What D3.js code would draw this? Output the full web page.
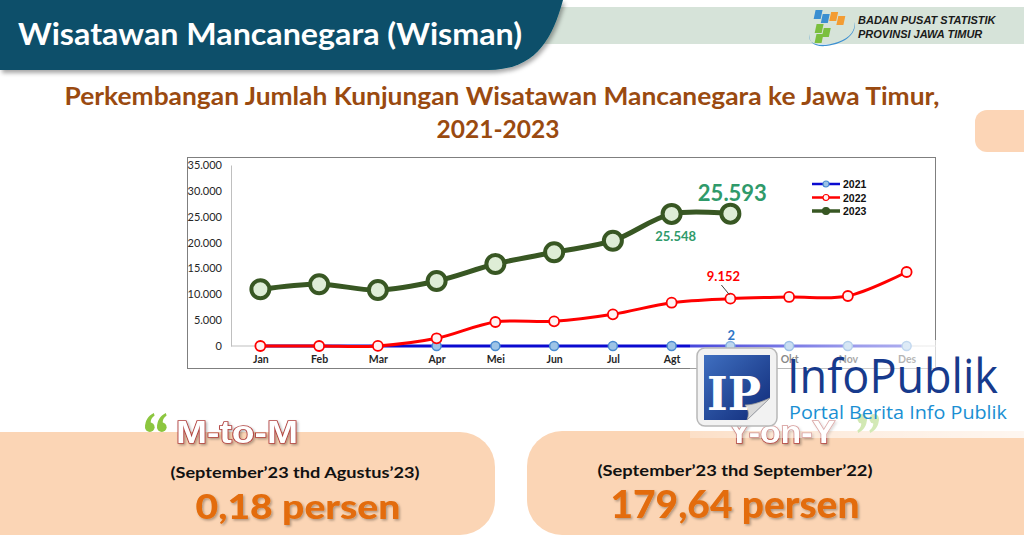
<!DOCTYPE html>
<html>
<head>
<meta charset="utf-8">
<script src="https://cdn.jsdelivr.net/npm/d3@7"></script>
<style>
  html, body { margin: 0; padding: 0; background: #fff; }
  svg { display: block; }
</style>
</head>
<body>
<div id="frame"></div>
<script>

// data
var months = ["Jan","Feb","Mar","Apr","Mei","Jun","Jul","Agt","Sep","Okt","Nov","Des"];
var wisman2021 = [0, 0, 0, 0, 0, 0, 0, 0, 2, 0, 0, 0];
var wisman2022 = [0, 2, 20, 1490, 4640, 4770, 6130, 8370, 9152, 9480, 9670, 14310];
var wisman2023 = [10960, 11950, 10830, 12570, 15860, 18120, 20360, 25548, 25593];
var yTicks = [0, 5000, 10000, 15000, 20000, 25000, 30000, 35000];
var seriesNames = ["2021", "2022", "2023"];

var W = 1024, H = 544;
var svg = d3.select("#frame").append("svg").attr("width", W).attr("height", H);
var defs = svg.append("defs");

var sans = "Lato, 'Open Sans', sans-serif";
var fmt = function(v){ return d3.format(",")(v).replace(/,/g, "."); };

// header ------------------------------------------------------------
svg.append("rect").attr("x", 540).attr("y", 7).attr("width", 484).attr("height", 37).attr("fill", "#d6e3d9");

var hs = defs.append("filter").attr("id", "hshadow").attr("x", "-5%").attr("y", "-20%").attr("width", "110%").attr("height", "150%");
hs.append("feDropShadow").attr("dx", 2).attr("dy", 3).attr("stdDeviation", 2).attr("flood-color", "#000").attr("flood-opacity", 0.35);

svg.append("path")
  .attr("d", "M0,0 H563 C552,40 535,70 488,70 H0 Z")
  .attr("fill", "#07506a")
  .attr("filter", "url(#hshadow)");

svg.append("text").attr("x", 18).attr("y", 45)
  .attr("font-family", sans).attr("font-weight", 700).attr("font-size", 31)
  .attr("fill", "#fff").attr("textLength", 504).attr("lengthAdjust", "spacingAndGlyphs")
  .text("Wisatawan Mancanegara (Wisman)");

// BPS mark
var bps = svg.append("g").attr("transform", "translate(806,8)");
bps.append("path").attr("d", "M4,26 C0,36 14,40 32,34 C44,30 50,22 48,14 C52,24 40,36 20,38 C8,39 2,34 4,26 Z").attr("fill", "#3b8fd1");
[[10,2,"#3b8fd1"],[18,6,"#3b8fd1"],[26,4,"#f39c33"],[34,8,"#f39c33"],[14,16,"#7bbf3f"],[22,20,"#7bbf3f"],[16,26,"#7bbf3f"]].forEach(function(p){
  bps.append("rect").attr("x", p[0]).attr("y", p[1]).attr("width", 7).attr("height", 9)
    .attr("transform", "skewX(-12)").attr("fill", p[2]);
});
svg.append("text").attr("x", 858).attr("y", 24)
  .attr("font-family", "'Liberation Sans', Arial, sans-serif").attr("font-weight", 700).attr("font-style", "italic")
  .attr("font-size", 11).attr("fill", "#1a1a1a").text("BADAN PUSAT STATISTIK");
svg.append("text").attr("x", 858).attr("y", 38)
  .attr("font-family", "'Liberation Sans', Arial, sans-serif").attr("font-weight", 700).attr("font-style", "italic")
  .attr("font-size", 11).attr("fill", "#1a1a1a").text("PROVINSI JAWA TIMUR");

// subtitle
svg.append("text").attr("x", 502).attr("y", 105).attr("text-anchor", "middle")
  .attr("font-family", sans).attr("font-weight", 700).attr("font-size", 24).attr("fill", "#9a4a10")
  .attr("textLength", 875).attr("lengthAdjust", "spacingAndGlyphs")
  .text("Perkembangan Jumlah Kunjungan Wisatawan Mancanegara ke Jawa Timur,");
svg.append("text").attr("x", 498).attr("y", 138).attr("text-anchor", "middle")
  .attr("font-family", sans).attr("font-weight", 700).attr("font-size", 24).attr("fill", "#9a4a10")
  .attr("textLength", 123).attr("lengthAdjust", "spacingAndGlyphs")
  .text("2021-2023");

// peach tab on the right
svg.append("rect").attr("x", 975).attr("y", 110).attr("width", 70).attr("height", 42).attr("rx", 12).attr("fill", "#fcd5b6");

// chart -------------------------------------------------------------
svg.append("rect").attr("x", 187.5).attr("y", 157.5).attr("width", 748).attr("height", 211)
  .attr("fill", "#fff").attr("stroke", "#7f7f7f").attr("stroke-width", 1);

var x = d3.scalePoint().domain(months).range([231, 936]).padding(0.5);
var y = d3.scaleLinear().domain([0, 35000]).range([346, 165]);

var g = svg.append("g");

var yAxis = g.append("g").attr("transform", "translate(231,0)")
  .call(d3.axisLeft(y).tickValues(yTicks).tickSize(0).tickPadding(9).tickFormat(fmt));
yAxis.select(".domain").attr("stroke", "#bfbfbf");
yAxis.selectAll("text").attr("font-family", sans).attr("font-size", 11).attr("fill", "#262626");

var xAxis = g.append("g").attr("transform", "translate(0,346)")
  .call(d3.axisBottom(x).tickSize(0).tickPadding(10));
xAxis.select(".domain").attr("stroke", "#bfbfbf").attr("d", "M231,0H936");
xAxis.selectAll("text").attr("font-family", sans).attr("font-weight", 700).attr("font-size", 10.5).attr("fill", "#262626");

var curve = d3.curveCatmullRom.alpha(0.5);
var lineGen = d3.line().x(function(d){ return x(d.m); }).y(function(d){ return y(d.v); }).curve(curve);
var pts = function(arr){ return arr.map(function(v, i){ return { m: months[i], v: v }; }); };

var styles = {
  "2021": { line: "#0a0ad0", width: 3, r: 4.5, fill: "#9dc3e6", stroke: "#4a8bd0", sw: 1.5 },
  "2022": { line: "#ff0000", width: 3, r: 5, fill: "#fff3f3", stroke: "#ff0000", sw: 1.8 },
  "2023": { line: "#385723", width: 5, r: 9, fill: "#deedd6", stroke: "#385723", sw: 4 }
};
var seriesData = { "2021": wisman2021, "2022": wisman2022, "2023": wisman2023 };

seriesNames.forEach(function(name){
  var s = styles[name], data = pts(seriesData[name]);
  var sg = g.append("g").attr("class", "series s" + name);
  sg.append("path").datum(data).attr("d", lineGen)
    .attr("fill", "none").attr("stroke", s.line).attr("stroke-width", s.width).attr("stroke-linecap", "round");
  sg.selectAll("circle").data(data).enter().append("circle")
    .attr("cx", function(d){ return x(d.m); }).attr("cy", function(d){ return y(d.v); })
    .attr("r", s.r).attr("fill", s.fill).attr("stroke", s.stroke).attr("stroke-width", s.sw);
});

// data labels
g.append("text").attr("x", x("Sep") + 2).attr("y", 201).attr("text-anchor", "middle")
  .attr("font-family", sans).attr("font-weight", 700).attr("font-size", 22).attr("fill", "#2f9a6a")
  .text(fmt(wisman2023[8]));
g.append("text").attr("x", x("Agt") + 4).attr("y", 241).attr("text-anchor", "middle")
  .attr("font-family", sans).attr("font-weight", 700).attr("font-size", 13).attr("fill", "#2f9a6a")
  .text(fmt(wisman2023[7]));
g.append("text").attr("x", x("Sep") - 7).attr("y", 281).attr("text-anchor", "middle")
  .attr("font-family", sans).attr("font-weight", 700).attr("font-size", 13).attr("fill", "#ff0000")
  .text(fmt(wisman2022[8]));
g.append("line").attr("x1", x("Sep") - 9).attr("y1", 285).attr("x2", x("Sep") - 1).attr("y2", y(wisman2022[8]) - 4)
  .attr("stroke", "#404040").attr("stroke-width", 1);
g.append("text").attr("x", x("Sep") + 1).attr("y", 340).attr("text-anchor", "middle")
  .attr("font-family", sans).attr("font-weight", 700).attr("font-size", 13).attr("fill", "#2e75c6")
  .text(fmt(wisman2021[8]));

// legend
var legend = g.append("g").attr("transform", "translate(812,184)");
seriesNames.forEach(function(name, i){
  var s = styles[name];
  var lg = legend.append("g").attr("transform", "translate(0," + (i * 13.5) + ")");
  lg.append("line").attr("x1", 0).attr("x2", 28).attr("stroke", s.line).attr("stroke-width", name === "2023" ? 3.5 : 2.5);
  lg.append("circle").attr("cx", 14).attr("r", name === "2023" ? 3.5 : 3)
    .attr("fill", name === "2023" ? s.stroke : s.fill).attr("stroke", s.stroke).attr("stroke-width", 1.2);
  lg.append("text").attr("x", 31).attr("y", 4)
    .attr("font-family", "'Liberation Sans Narrow', 'Liberation Sans', Arial, sans-serif")
    .attr("font-weight", 700).attr("font-size", 10.5).attr("fill", "#111").text(name);
});

// bottom boxes ------------------------------------------------------
var ts = defs.append("filter").attr("id", "tshadow").attr("x", "-10%").attr("y", "-20%").attr("width", "120%").attr("height", "150%");
ts.append("feDropShadow").attr("dx", 1.5).attr("dy", 1.5).attr("stdDeviation", 1).attr("flood-color", "#000").attr("flood-opacity", 0.3);

svg.append("path").attr("d", "M-10,432 H460 A35,35 0 0 1 495,467 V500 A35,35 0 0 1 460,535 H-10 Z").attr("fill", "#fbd5b5");
svg.append("path").attr("d", "M1034,431 H562 A35,35 0 0 0 527,466 V500 A35,35 0 0 0 562,535 H1034 Z").attr("fill", "#fbd5b5");

// heavy "66" / "99" quote marks, drawn as shapes
function quoteMark(gx, gy, flip){
  var q = svg.append("g").attr("transform", "translate(" + gx + "," + gy + ")" + (flip ? " rotate(180,11,9.5)" : ""));
  [0, 12].forEach(function(dx){
    var m = q.append("g").attr("transform", "translate(" + dx + ",0)");
    m.append("circle").attr("cx", 4.8).attr("cy", 14.2).attr("r", 4.8).attr("fill", "#8cc63f");
    m.append("path").attr("d", "M0.1,14 C0.2,7.5 3,3 8.8,0 L9.6,2.6 C6.6,4.6 5.4,7.5 5.8,10.2 Z").attr("fill", "#8cc63f");
  });
}
quoteMark(145, 413, false);
quoteMark(857, 414, true);

svg.append("text").attr("x", 176).attr("y", 443)
  .attr("font-family", "'Liberation Sans', Arial, sans-serif").attr("font-weight", 700).attr("font-size", 31)
  .attr("fill", "#fff").attr("stroke", "#b0413e").attr("stroke-width", 1.6).attr("paint-order", "stroke")
  .attr("textLength", 122).attr("lengthAdjust", "spacingAndGlyphs").attr("filter", "url(#tshadow)")
  .text("M-to-M");

svg.append("text").attr("x", 295).attr("y", 478).attr("text-anchor", "middle")
  .attr("font-family", sans).attr("font-weight", 700).attr("font-size", 15).attr("fill", "#111")
  .attr("textLength", 249).attr("lengthAdjust", "spacingAndGlyphs")
  .text("(September\u201923 thd Agustus\u201923)");
svg.append("text").attr("x", 298).attr("y", 519).attr("text-anchor", "middle")
  .attr("font-family", sans).attr("font-weight", 900).attr("font-size", 35).attr("fill", "#e36c0a")
  .attr("textLength", 205).attr("lengthAdjust", "spacingAndGlyphs").attr("filter", "url(#tshadow)")
  .text("0,18 persen");

svg.append("text").attr("x", 728).attr("y", 443)
  .attr("font-family", "'Liberation Sans', Arial, sans-serif").attr("font-weight", 700).attr("font-size", 31)
  .attr("fill", "#fff").attr("stroke", "#b0413e").attr("stroke-width", 1.6).attr("paint-order", "stroke")
  .attr("textLength", 107).attr("lengthAdjust", "spacingAndGlyphs").attr("filter", "url(#tshadow)")
  .text("Y-on-Y");

svg.append("text").attr("x", 735).attr("y", 476).attr("text-anchor", "middle")
  .attr("font-family", sans).attr("font-weight", 700).attr("font-size", 15).attr("fill", "#111")
  .attr("textLength", 275).attr("lengthAdjust", "spacingAndGlyphs")
  .text("(September\u201923 thd September\u201922)");
svg.append("text").attr("x", 735).attr("y", 518).attr("text-anchor", "middle")
  .attr("font-family", sans).attr("font-weight", 900).attr("font-size", 38).attr("fill", "#e36c0a")
  .attr("textLength", 249).attr("lengthAdjust", "spacingAndGlyphs").attr("filter", "url(#tshadow)")
  .text("179,64 persen");

// InfoPublik watermark ----------------------------------------------
var wg = defs.append("linearGradient").attr("id", "wfade").attr("x1", 0).attr("x2", 1);
wg.append("stop").attr("offset", 0).attr("stop-color", "#fff").attr("stop-opacity", 0.25);
wg.append("stop").attr("offset", 0.5).attr("stop-color", "#fff").attr("stop-opacity", 0.6);
wg.append("stop").attr("offset", 1).attr("stop-color", "#fff").attr("stop-opacity", 0.8);
svg.append("rect").attr("x", 690).attr("y", 340).attr("width", 334).attr("height", 98).attr("fill", "url(#wfade)");

var ig = defs.append("linearGradient").attr("id", "ipblue").attr("x1", 0).attr("y1", 0).attr("x2", 1).attr("y2", 1);
ig.append("stop").attr("offset", 0).attr("stop-color", "#3f6fc0");
ig.append("stop").attr("offset", 1).attr("stop-color", "#0f2a78");

var ip = svg.append("g").attr("transform", "translate(697,348)");
ip.append("rect").attr("x", 0).attr("y", 0).attr("width", 80).attr("height", 78).attr("rx", 8)
  .attr("fill", "#f2f2f2").attr("stroke", "#b8b8b8").attr("stroke-width", 1.5);
ip.append("path").attr("d", "M7,7 H73 V50 L50,72 H7 Z").attr("fill", "url(#ipblue)");
ip.append("path").attr("d", "M50,72 L73,50 C64,54 56,57 48,57 C52,62 52,67 50,72 Z").attr("fill", "#d9d9d9").attr("stroke", "#999").attr("stroke-width", 0.8);
ip.append("text").attr("x", 37).attr("y", 62).attr("text-anchor", "middle")
  .attr("font-family", "'DejaVu Serif', 'Liberation Serif', serif").attr("font-weight", 700).attr("font-size", 46)
  .attr("fill", "#fff").attr("textLength", 54).attr("lengthAdjust", "spacingAndGlyphs").text("IP");

svg.append("text").attr("x", 787).attr("y", 393)
  .attr("font-family", "'Open Sans', sans-serif").attr("font-size", 47).attr("fill", "#173a8c")
  .attr("textLength", 211).attr("lengthAdjust", "spacingAndGlyphs").text("InfoPublik");
svg.append("text").attr("x", 789).attr("y", 419)
  .attr("font-family", "'Open Sans', sans-serif").attr("font-size", 18).attr("fill", "#1a8fd3")
  .attr("textLength", 218).attr("lengthAdjust", "spacingAndGlyphs").text("Portal Berita Info Publik");

</script>
</body>
</html>
